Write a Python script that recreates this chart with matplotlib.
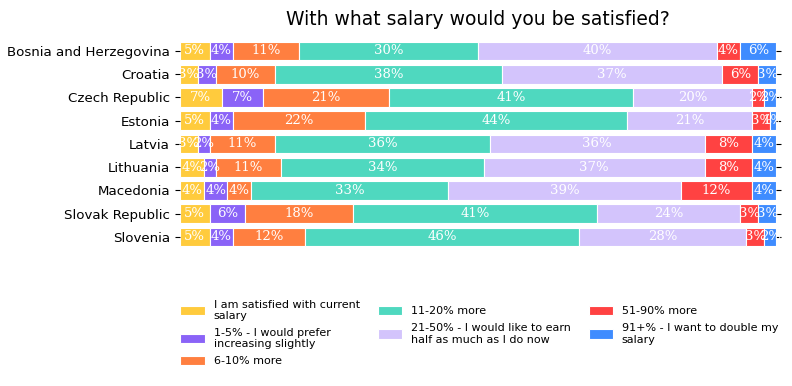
import numpy as np
import matplotlib.pyplot as plt

countries = ['Bosnia and Herzegovina', 'Croatia', 'Czech Republic', 'Estonia',
             'Latvia', 'Lithuania', 'Macedonia', 'Slovak Republic', 'Slovenia']
answers = ['I am satisfied with current\nsalary',
           '1-5% - I would prefer\nincreasing slightly',
           '6-10% more',
           '11-20% more',
           '21-50% - I would like to earn\nhalf as much as I do now',
           '51-90% more',
           '91+% - I want to double my\nsalary']
satisfied = [5, 3, 7, 5, 3, 4, 4, 5, 5]
p1_5 = [4, 3, 7, 4, 2, 2, 4, 6, 4]
p6_10 = [11, 10, 21, 22, 11, 11, 4, 18, 12]
p11_20 = [30, 38, 41, 44, 36, 34, 33, 41, 46]
p21_50 = [40, 37, 20, 21, 36, 37, 39, 24, 28]
p51_90 = [4, 6, 2, 3, 8, 8, 12, 3, 3]
p91 = [6, 3, 2, 1, 4, 4, 4, 3, 2]
series = [satisfied, p1_5, p6_10, p11_20, p21_50, p51_90, p91]
colors = ['#ffcb3d', '#8a63f7', '#ff7f40', '#4fd8bf', '#d3c4fc', '#ff4242', '#3f8cff']

fig = plt.figure(figsize=(7.92, 3.86), dpi=100)
ax = fig.add_axes([0.227, 0.356, 0.753, 0.542])

y = np.arange(len(countries))
left = np.zeros(len(countries))
for vals, name, col in zip(series, answers, colors):
    vals = np.array(vals, dtype=float)
    ax.barh(y, vals, left=left, height=0.8, color=col, edgecolor='white',
            linewidth=0.8, label=name)
    for yi, (l, v) in enumerate(zip(left, vals)):
        ax.text(l + v / 2, yi, '{:.0f}%'.format(v), ha='center', va='center',
                color='white', fontsize=9.5, family='DejaVu Serif')
    left += vals

ax.set_xlim(0, left.max())
ax.set_ylim(len(countries) - 0.5, -0.5)
ax.set_yticks(y)
ax.set_yticklabels(countries, fontsize=9.6)
ax.tick_params(axis='y', left=True, right=True, length=3.5)
ax.set_xticks([])
for s in ax.spines.values():
    s.set_visible(False)

fig.suptitle('With what salary would you be satisfied?', fontsize=13.5, y=0.975, x=0.604)

fig.legend(loc='upper left', bbox_to_anchor=(0.215, 0.25), ncol=3,
           frameon=False, fontsize=8, handlelength=2.2, handleheight=0.9,
           columnspacing=1.6, labelspacing=0.6)

plt.savefig('out.png', dpi=100)
